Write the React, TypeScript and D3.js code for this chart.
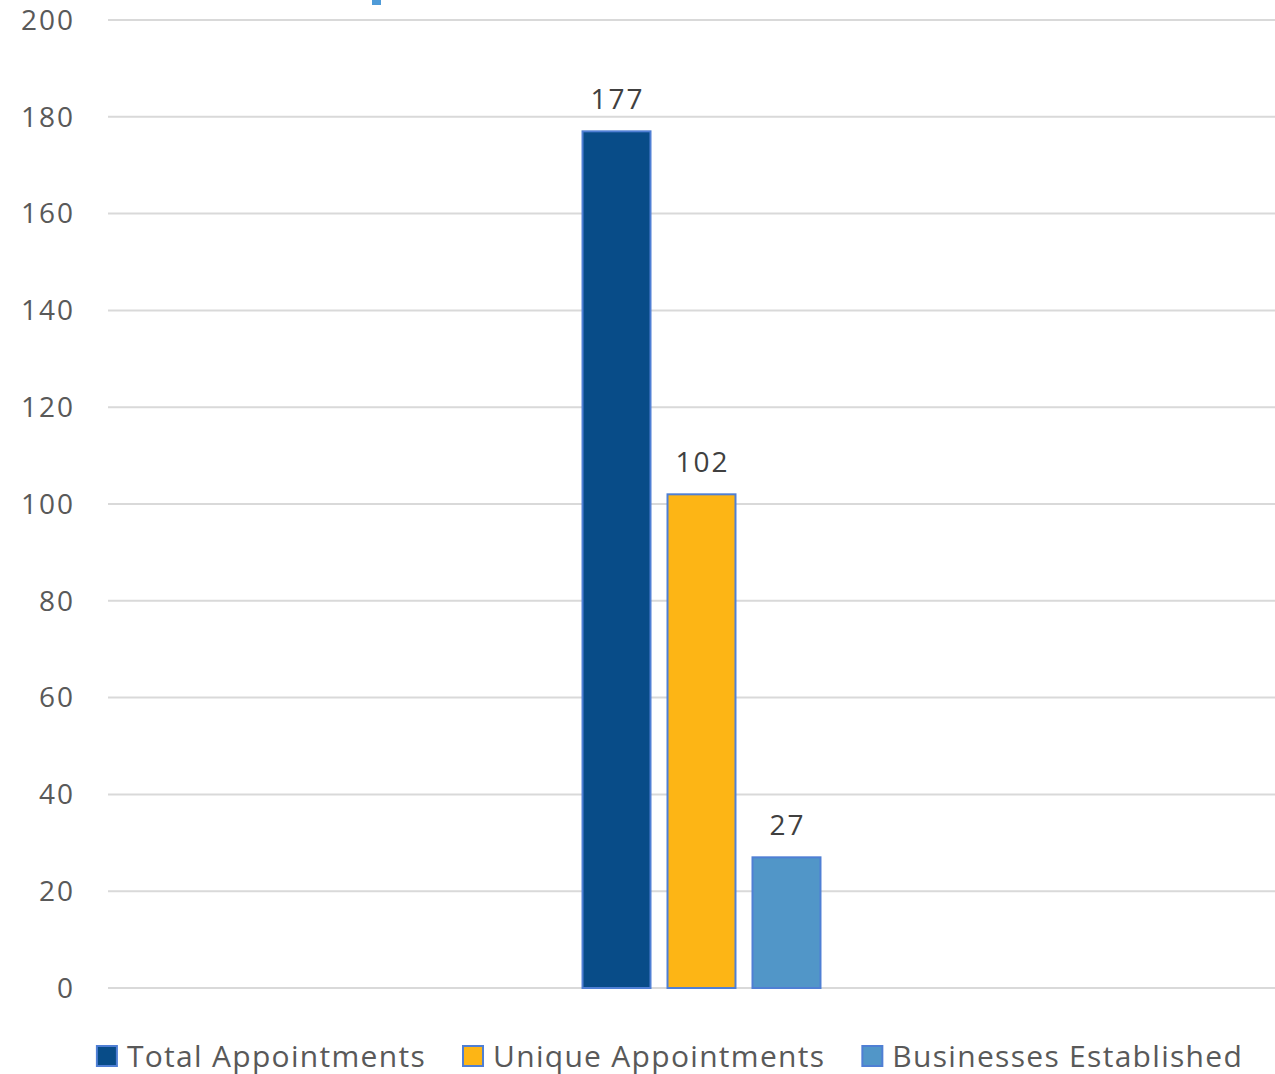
import { useEffect, useRef } from 'react';
import * as d3 from 'd3';

const categories = [''];
const seriesNames = ['Total Appointments', 'Unique Appointments', 'Businesses Established'];
const seriesValues = [177, 102, 27];
const seriesColors = ['#084c88', '#fdb515', '#5196c8'];
const yTicks = [0, 20, 40, 60, 80, 100, 120, 140, 160, 180, 200];

const App = () => {
    const svgRef = useRef<SVGSVGElement | null>(null);

    useEffect(() => {
        if (!svgRef.current) return;
        const svg = d3.select(svgRef.current);
        svg.selectAll('*').remove();

        const width = 1275;
        const height = 1074;
        const margin = { top: 20, right: -20, bottom: 86, left: 108 };
        const font = '"Open Sans", "Noto Sans", sans-serif';

        const yScale = d3.scaleLinear()
            .domain([0, 200])
            .range([height - margin.bottom, margin.top]);

        // one category, three bars side by side
        const xScale = d3.scaleBand()
            .domain(categories)
            .range([margin.left, width - margin.right])
            .paddingOuter(1.994);

        const innerScale = d3.scaleBand()
            .domain(seriesNames)
            .range([0, xScale.bandwidth()])
            .paddingInner(0.2);

        // title fragment cut off at the top edge
        svg.append('rect')
            .attr('x', 372).attr('y', 0)
            .attr('width', 9).attr('height', 5)
            .attr('fill', '#4f9bd8');

        // gridlines
        svg.append('g')
            .selectAll('line')
            .data(yTicks)
            .join('line')
            .attr('x1', margin.left)
            .attr('x2', width)
            .attr('y1', d => yScale(d))
            .attr('y2', d => yScale(d))
            .attr('stroke', '#d9d9d9')
            .attr('stroke-width', 2);

        // tick labels
        svg.append('g')
            .selectAll('text')
            .data(yTicks)
            .join('text')
            .attr('x', 75)
            .attr('y', d => yScale(d))
            .attr('dy', '0.35em')
            .attr('text-anchor', 'end')
            .attr('font-family', font)
            .attr('font-size', 28)
            .attr('letter-spacing', 2)
            .attr('fill', '#595959')
            .text(d => d);

        // bars
        const group = svg.append('g')
            .attr('transform', `translate(${xScale(categories[0])},0)`);

        group.selectAll('rect')
            .data(seriesValues)
            .join('rect')
            .attr('x', (d, i) => innerScale(seriesNames[i]) as number)
            .attr('y', d => yScale(d))
            .attr('width', innerScale.bandwidth())
            .attr('height', d => yScale(0) - yScale(d))
            .attr('fill', (d, i) => seriesColors[i])
            .attr('stroke', '#4f7fd4')
            .attr('stroke-width', 2);

        // value labels
        group.selectAll('text')
            .data(seriesValues)
            .join('text')
            .attr('x', (d, i) => (innerScale(seriesNames[i]) as number) + innerScale.bandwidth() / 2 + 1)
            .attr('y', d => yScale(d) - 22)
            .attr('text-anchor', 'middle')
            .attr('font-family', font)
            .attr('font-size', 28)
            .attr('letter-spacing', 2)
            .attr('fill', '#404040')
            .text(d => d);

        // legend
        const legend = svg.append('g');
        const items = legend.selectAll('g')
            .data(seriesNames)
            .join('g');

        items.append('rect')
            .attr('x', 1).attr('y', -10)
            .attr('width', 20).attr('height', 20)
            .attr('fill', (d, i) => seriesColors[i])
            .attr('stroke', '#4f7fd4')
            .attr('stroke-width', 2);

        items.append('text')
            .attr('x', 31)
            .attr('dy', '0.35em')
            .attr('font-family', font)
            .attr('font-size', 30)
            .attr('letter-spacing', 1.3)
            .attr('fill', '#595959')
            .text(d => d);

        let offset = 0;
        const offsets: number[] = [];
        items.each(function () {
            offsets.push(offset);
            const w = (this as SVGGElement).getBBox().width;
            offset += w + 37;
        });
        const total = offset - 37;
        const startX = 669 - total / 2;
        items.attr('transform', (d, i) => `translate(${startX + offsets[i]},1056)`);
    }, []);

    return (
        <div style={{ position: 'absolute', left: 0, top: 0 }}>
            <svg ref={svgRef} width="1275" height="1074" style={{ display: 'block', background: '#fff' }}></svg>
        </div>
    );
};

export default App;
